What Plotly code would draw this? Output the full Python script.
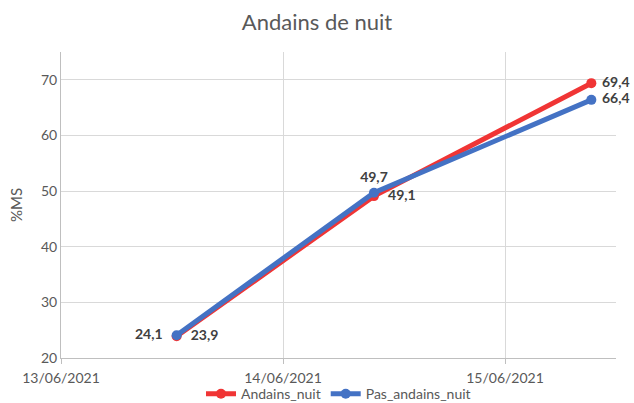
import plotly.graph_objs as go

# Dates of the measures and dry matter values (%MS)
dates = ["2021-06-13 12:30", "2021-06-14 09:50", "2021-06-15 09:20"]
andains_nuit = [23.9, 49.1, 69.4]
pas_andains_nuit = [24.1, 49.7, 66.4]

label_font = dict(size=14, color='#404040', family='Lato', weight='bold')

fig = go.Figure()
fig.add_trace(go.Scatter(x=dates, y=andains_nuit, mode='lines+markers+text', name='Andains_nuit',
                         line=dict(color='#F03535', width=5),
                         marker=dict(size=10, color='#F03535'),
                         texttemplate=['  %{y:.1f}', '  %{y:.1f}', ' %{y:.1f}'],
                         textposition=['middle right', 'middle right', 'middle right'],
                         textfont=label_font,
                         cliponaxis=False))
fig.add_trace(go.Scatter(x=dates, y=pas_andains_nuit, mode='lines+markers+text', name='Pas_andains_nuit',
                         line=dict(color='#4472C4', width=5),
                         marker=dict(size=10, color='#4472C4'),
                         texttemplate=['%{y:.1f}  ', '%{y:.1f}', ' %{y:.1f}'],
                         textposition=['middle left', 'top center', 'middle right'],
                         textfont=label_font,
                         cliponaxis=False))

fig.update_layout(
    width=634, height=403,
    title=dict(text="Andains de nuit", x=0.5, xanchor='center', y=0.945, yanchor='middle',
               font=dict(size=22, color='#595959', family='Lato')),
    separators=', ',
    plot_bgcolor='white', paper_bgcolor='white',
    font=dict(family='Lato', size=14, color='#595959'),
    margin=dict(l=61, r=18, t=52, b=45),
    showlegend=True,
    legend=dict(orientation='h', x=0.5, xanchor='center', yref='container', y=0.022, yanchor='middle',
                bgcolor='rgba(0,0,0,0)', font=dict(size=14, color='#595959')),
    xaxis=dict(
        type='date', automargin=False,
        range=['2021-06-13', '2021-06-15 12:00'],
        tick0='2021-06-13', dtick=86400000,
        tickformat='%d/%m/%Y',
        showgrid=True, gridcolor='#D9D9D9', gridwidth=1,
        showline=True, linecolor='#BFBFBF', linewidth=1,
        ticks='outside', ticklen=5, tickcolor='#BFBFBF',
        ticklabelstandoff=2,
        zeroline=False,
    ),
    yaxis=dict(
        automargin=False,
        title=dict(text='%MS', font=dict(size=15, color='#595959'), standoff=14),
        range=[20, 75], tick0=20, dtick=10,
        showgrid=True, gridcolor='#D9D9D9', gridwidth=1,
        showline=True, linecolor='#BFBFBF', linewidth=1,
        zeroline=False,
    ),
)

# the page body has a default 8px margin, remove it so the figure fills the window
fig.write_html("out.html", config={'displayModeBar': False},
               post_script="document.body.style.margin='0';")
